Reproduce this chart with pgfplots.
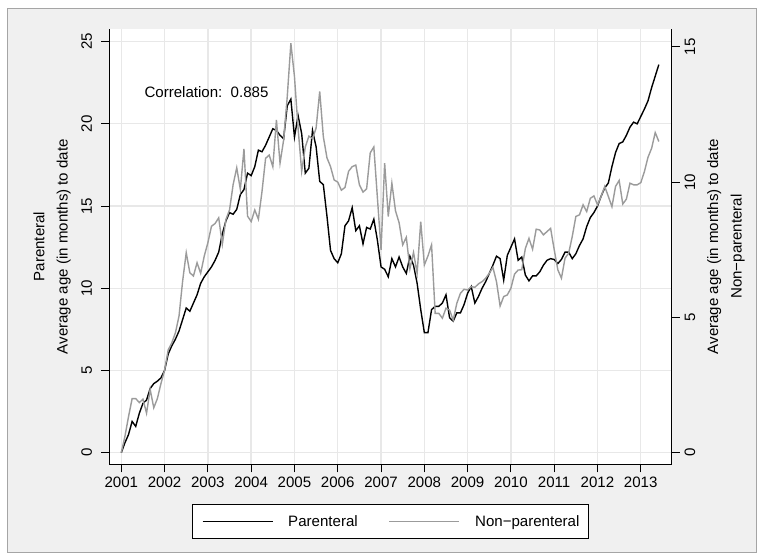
\documentclass[border=0pt]{standalone}
\usepackage{fontspec}
\setmainfont{Liberation Sans}
\usepackage{pgfplots}
\pgfplotsset{compat=1.18}
\usepackage{pgfplotstable}

\definecolor{bggray}{RGB}{240,240,240}
\definecolor{framegray}{RGB}{165,165,165}
\definecolor{gridgray}{RGB}{232,232,232}
\definecolor{npgray}{RGB}{155,155,155}

% Monthly series from January 2001 to June 2013
% par    = parenteral, average age in months (left axis)
% nonpar = non-parenteral, average age in months (right axis)
\pgfplotstableread{
par nonpar
0     0
0.6   0.6
1.1   1.33
1.9   2.0
1.6   2.0
2.4   1.85
3.0   1.98
3.2   1.46
3.9   2.34
4.2   1.66
4.35  2.0
4.55  2.56
5.0   3.05
6.0   3.8
6.5   4.06
6.9   4.43
7.4   5.05
8.1   6.34
8.8   7.39
8.6   6.65
9.1   6.53
9.6   7.02
10.3  6.63
10.7  7.27
11.0  7.76
11.3  8.37
11.7  8.47
12.2  8.68
13.3  7.70
14.1  8.62
14.6  8.97
14.5  9.91
14.8  10.53
15.7  9.73
16.0  11.23
17.0  8.74
16.85 8.54
17.4  8.97
18.4  8.63
18.3  9.65
18.7  10.88
19.2  11.0
19.7  10.57
19.6  12.3
19.3  10.7
19.1  11.56
21.1  13.16
21.5  15.13
19.2  13.9
20.5  12.0
19.4  10.4
17.0  11.3
17.3  11.7
19.6  11.6
18.6  12.0
16.5  13.35
16.3  11.68
14.4  10.9
12.3  10.57
11.8  10.08
11.55 10.0
12.1  9.7
13.8  9.8
14.1  10.4
14.9  10.57
13.5  10.63
13.8  9.9
12.7  9.63
13.7  9.75
13.6  11.08
14.2  11.3
12.9  9.4
11.3  7.5
11.15 10.7
10.7  8.73
11.8  9.96
11.3  8.94
11.9  8.5
11.3  7.68
10.9  7.96
11.95 6.8
11.4  7.4
10.3  6.63
8.7   8.54
7.3   6.94
7.3   7.27
8.7   7.68
8.9   5.15
8.9   5.15
9.1   4.97
9.6   5.34
8.2   5.27
8.0   4.9
8.5   5.52
8.5   5.89
9.0   6.04
9.7   6.01
10.1  6.14
9.1   6.11
9.5   6.24
10.0  6.32
10.4  6.45
10.9  6.63
11.4  6.85
11.95 6.32
11.8  5.42
10.5  5.77
12.0  5.83
12.5  6.08
13.0  6.6
11.7  6.75
11.9  6.76
10.8  7.55
10.45 7.92
10.75 7.52
10.75 8.26
11.0  8.23
11.4  8.05
11.7  8.17
11.8  8.29
11.75 7.5
11.5  6.76
11.75 6.45
12.2  7.19
12.2  7.37
11.8  7.99
12.1  8.73
12.6  8.79
13.0  9.16
13.75 8.91
14.3  9.40
14.6  9.49
15.0  9.16
15.6  9.47
16.1  9.84
16.4  9.47
17.4  9.09
18.25 9.84
18.8  10.06
18.9  9.19
19.3  9.37
19.8  9.96
20.1  9.9
20.0  9.9
20.45 9.98
20.9  10.39
21.4  10.92
22.2  11.25
22.9  11.83
23.6  11.5
}\agedata

\pgfplotsset{
  commonaxis/.style={
    at={(81.98pt,71.78pt)}, anchor=south west,
    scale only axis, width=422.0pt, height=326.5pt,
    xmin=2000.723, xmax=2013.72,
    font=\fontsize{11.3}{13}\selectfont,
    /pgf/number format/assume math mode=true,
    tick align=outside, major tick length=6pt,
    tick style={black, line width=0.75pt},
    axis line style={-, black, line width=0.75pt},
    ylabel style={align=center, anchor=center, rotate=0,
      font=\fontsize{11.3}{17.5}\selectfont},
  },
}

\begin{document}
\begin{tikzpicture}[x=0.75pt,y=0.75pt]
\path[use as bounding box] (0,0) rectangle (764,560);
\fill[white] (0,0) rectangle (764,560);
\filldraw[fill=bggray, draw=framegray, line width=0.75pt] (7.5,7) rectangle (756.5,551);

% left axis: parenteral
\begin{axis}[commonaxis,
  ymin=-0.706, ymax=25.77,
  axis x line*=bottom, axis y line*=left,
  axis background/.style={fill=white},
  xtick={2001,...,2013},
  xticklabel style={/pgf/number format/1000 sep={}},
  ytick={0,5,...,25},
  yticklabel style={rotate=90, anchor=south},
  yticklabel shift=3.4pt,
  xmajorgrids, ymajorgrids,
  major grid style={gridgray, line width=1pt},
  ylabel={Parenteral\\Average age (in months) to date},
  ylabel style={at={(axis description cs:-0.1018,0.5)}},
]
\addplot[black, line width=1.05pt] table[x expr=2001+\coordindex/12, y=par] {\agedata};
\node[anchor=west, inner sep=0pt] at (axis cs:2001.53,21.94) {Correlation:\ \ 0.885};
\end{axis}

% right axis: non-parenteral
\begin{axis}[commonaxis,
  ymin=-0.429, ymax=15.66,
  axis x line=none, axis y line*=right,
  ytick={0,5,10,15},
  yticklabel style={rotate=90, anchor=north},
  ylabel={Average age (in months) to date\\Non−parenteral},
  ylabel style={at={(axis description cs:1.096,0.5)}},
  legend columns=2,
  legend image code/.code={\draw[#1, line width=1.05pt] (0pt,0pt) -- (52.5pt,0pt);},
  legend style={at={(axis description cs:0.5,-0.0912)}, anchor=north,
    draw=black, line width=0.75pt, fill=white,
    inner xsep=6.75pt, inner ysep=8pt,
    nodes={inner sep=0pt},
    font=\fontsize{11.3}{13}\selectfont,
    /tikz/every odd column/.append style={column sep=11.25pt},
    /tikz/every even column/.append style={column sep=23.25pt}},
]
\addlegendimage{black}
\addlegendentry{Parenteral}
\addplot[npgray, line width=1.05pt] table[x expr=2001+\coordindex/12, y=nonpar] {\agedata};
\addlegendentry{Non−parenteral}
\end{axis}
\end{tikzpicture}
\end{document}
